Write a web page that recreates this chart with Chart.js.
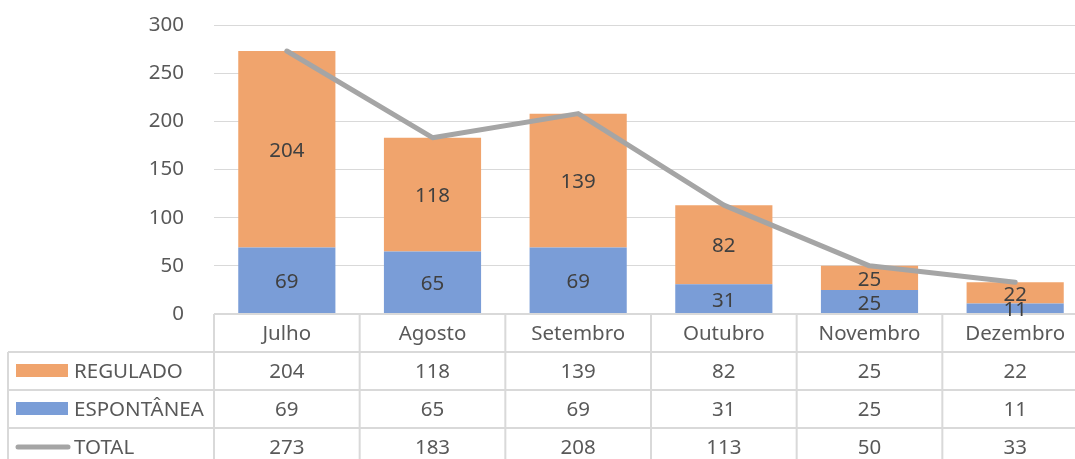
<!DOCTYPE html>
<html><head><meta charset="utf-8">
<style>html,body{margin:0;padding:0;overflow:hidden;background:#fff}#wrap{position:relative;width:1090px;height:459px}</style>
<script src="https://cdn.jsdelivr.net/npm/chart.js@4.4.0/dist/chart.umd.min.js"></script>
</head><body><div id="wrap"><canvas id="c" width="1090" height="459"></canvas></div>
<script>
const categories = ['Julho','Agosto','Setembro','Outubro','Novembro','Dezembro'];
const regulado = [204,118,139,82,25,22];
const espontanea = [69,65,69,31,25,11];
const total = [273,183,208,113,50,33];
const yTicks = [0,50,100,150,200,250,300];

const FONT = '"Noto Sans", sans-serif';
const FS = 20.5;
const TXT = '#595959';
const LBL = '#404040';
const ORANGE = '#f0a46d';
const BLUE = '#7a9dd7';
const GRAY = '#a5a5a5';
const GRID = '#d9d9d9';

const tablePlugin = {
  id: 'tablePlugin',
  afterDraw(chart) {
    const ctx = chart.ctx;
    const a = chart.chartArea;
    const W = chart.width, H = chart.height;
    const n = categories.length;
    const colW = (a.right - a.left) / n;
    const rowH = 38;
    const top = a.bottom;
    const tableLeft = 8;
    ctx.save();
    ctx.strokeStyle = GRID;
    ctx.lineWidth = 2;
    ctx.beginPath();
    ctx.moveTo(a.left, top); ctx.lineTo(W, top);
    for (let r = 1; r <= 3; r++) { ctx.moveTo(tableLeft, top + r*rowH); ctx.lineTo(W, top + r*rowH); }
    for (let k = 0; k <= n; k++) { const x = a.left + k*colW; ctx.moveTo(x, top); ctx.lineTo(x, H); }
    ctx.moveTo(tableLeft, top + rowH); ctx.lineTo(tableLeft, H);
    ctx.stroke();

    ctx.font = FS + 'px ' + FONT;
    ctx.fillStyle = TXT;
    ctx.textAlign = 'center';
    ctx.textBaseline = 'middle';
    const rows = [regulado, espontanea, total];
    for (let i = 0; i < n; i++) {
      const cx = a.left + (i + 0.5) * colW;
      ctx.fillText(categories[i], cx, top + rowH/2 + 1);
      rows.forEach((arr, r) => ctx.fillText(String(arr[i]), cx, top + (r + 1.5)*rowH + 1));
    }
    const names = ['REGULADO','ESPONTÂNEA','TOTAL'];
    ctx.textAlign = 'left';
    names.forEach((nm, r) => {
      const cy = top + (r + 1.5)*rowH;
      if (r < 2) {
        ctx.fillStyle = r === 0 ? ORANGE : BLUE;
        ctx.fillRect(16, cy - 7, 52, 13);
      } else {
        ctx.strokeStyle = GRAY; ctx.lineWidth = 5; ctx.lineCap = 'round';
        ctx.beginPath(); ctx.moveTo(18, cy); ctx.lineTo(68, cy); ctx.stroke();
      }
      ctx.fillStyle = TXT;
      ctx.fillText(nm, 74, cy + 1);
    });

    // bar data labels (drawn last, over the table border)
    ctx.fillStyle = LBL;
    ctx.textAlign = 'center';
    [0,1].forEach(di => {
      const meta = chart.getDatasetMeta(di);
      meta.data.forEach((bar, i) => {
        const v = chart.data.datasets[di].data[i];
        const p = bar.getProps(['x','y','base'], true);
        ctx.fillText(String(v), p.x, (p.y + p.base) / 2 + 2);
      });
    });
    ctx.restore();
  }
};

new Chart(document.getElementById('c'), {
  data: {
    labels: categories,
    datasets: [
      { type: 'bar', label: 'ESPONTÂNEA', data: espontanea, backgroundColor: BLUE, stack: 's', order: 1,
        categoryPercentage: 1, barPercentage: 0.667, borderWidth: 0 },
      { type: 'bar', label: 'REGULADO', data: regulado, backgroundColor: ORANGE, stack: 's', order: 2,
        categoryPercentage: 1, barPercentage: 0.667, borderWidth: 0 },
      { type: 'line', label: 'TOTAL', data: total, borderColor: GRAY, borderWidth: 5, pointRadius: 0,
        tension: 0, order: 0, borderCapStyle: 'round', borderJoinStyle: 'round', stack: 'line' }
    ]
  },
  options: {
    responsive: false,
    animation: false,
    devicePixelRatio: 1,
    layout: { padding: { left: 0, right: 2, top: 25, bottom: 145 } },
    plugins: { legend: { display: false }, tooltip: { enabled: false } },
    scales: {
      x: { display: false, stacked: true },
      y: {
        stacked: true, min: 0, max: 300,
        afterFit(s) { s.width = 214; s.paddingTop = 0; s.paddingBottom = 0; },
        afterBuildTicks(s) { s.ticks = yTicks.map(v => ({ value: v })); },
        border: { display: false },
        grid: { color: GRID, lineWidth: 1, drawTicks: false },
        ticks: { color: TXT, font: { family: FONT, size: FS }, padding: 30 }
      }
    }
  },
  plugins: [tablePlugin]
});
</script>
</body></html>
